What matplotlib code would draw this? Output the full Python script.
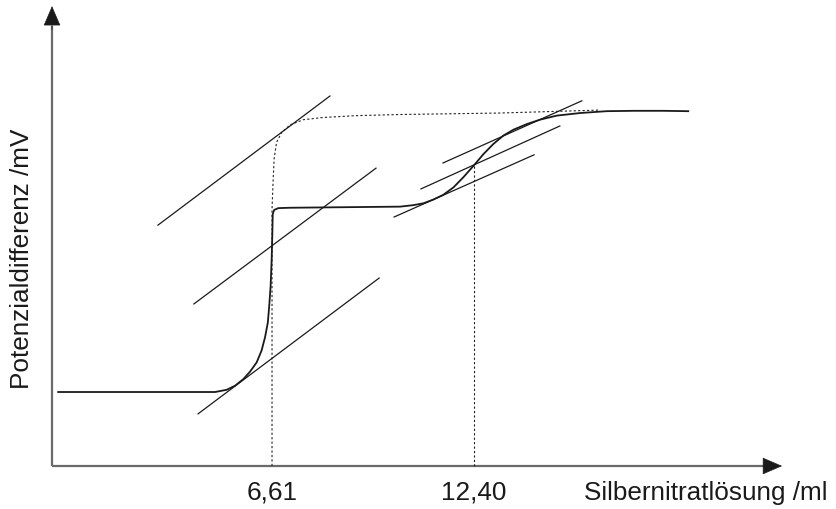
import matplotlib as mpl
import matplotlib.pyplot as plt

mpl.rcParams["font.family"] = ["Liberation Sans", "DejaVu Sans"]

# Data (x in ml, y in arbitrary mV units)
curve_x = [0.48, 4.98, 5.31, 5.55, 5.79, 5.98, 6.17, 6.31, 6.41, 6.49, 6.53,
           6.57, 6.60, 6.62, 6.63, 6.67, 6.79, 7.13, 10.28, 10.66, 10.95, 11.23,
           11.52, 11.81, 12.09, 12.41, 12.67, 12.95, 13.24, 13.53, 13.91, 14.29,
           14.77, 15.44, 16.20, 16.97, 17.83, 18.54]
curve_y = [20.0, 20.0, 20.6, 21.7, 23.5, 25.5, 28.0, 31.2, 34.8, 38.8, 43.3,
           48.7, 56.0, 63.2, 68.1, 69.2, 69.7, 69.8, 70.1, 70.5, 71.0, 72.0,
           73.3, 75.3, 78.0, 81.4, 84.3, 87.0, 89.3, 90.9, 92.4, 93.6,
           94.7, 95.4, 95.9, 96.0, 96.0, 95.9]

ideal_x = [6.61, 6.61, 6.64, 6.67, 6.74, 6.89, 7.13, 7.51, 8.08, 9.04, 10.28, 13.14, 16.01]
ideal_y = [0.0, 69.5, 76.8, 83.0, 87.5, 90.2, 92.2, 93.6, 94.2, 94.7, 95.0, 95.4, 96.2]

# tangent segments: (x0, y0, x1, y1)
tangents = [
    (3.34, 65.1, 8.27, 100.0),
    (4.37, 43.8, 9.59, 80.5),
    (4.49, 14.1, 9.68, 50.8),
    (11.51, 81.9, 15.49, 98.7),
    (10.88, 74.9, 14.86, 91.9),
    (10.11, 67.3, 14.12, 84.1),
]

eq_points = [6.61, 12.40]
eq_labels = ["6,61", "12,40"]
eq_heights = [69.5, 81.35]

fig = plt.figure(figsize=(8.36, 5.10), dpi=100)
ax = fig.add_axes([0, 0, 1, 1])
ax.set_xlim(-1.187, 22.775)
ax.set_ylim(-11.62, 126.22)
ax.axis("off")

x0, y0 = 0.304, 0.0
# axes with arrows
ax.plot([x0, x0], [y0, 119], color="#6a6a6a", lw=1.6, solid_capstyle="butt")
ax.plot([x0, 20.8], [y0, y0], color="#6a6a6a", lw=1.6, solid_capstyle="butt")
head = dict(arrowstyle="-|>,head_length=0.65,head_width=0.28", mutation_scale=20,
            color="#1a1a1a", lw=0.5, shrinkA=0, shrinkB=0)
ax.annotate("", xy=(x0, 124.3), xytext=(x0, 118), arrowprops=head)
ax.annotate("", xy=(21.23, y0), xytext=(20.7, y0), arrowprops=head)

# equivalence dotted lines
for xe, he, lab in zip(eq_points, eq_heights, eq_labels):
    if xe > 10:
        ax.plot([xe, xe], [0, he], color="#222222", lw=0.8, ls=(0, (2, 2)))
    ax.text(xe, -8.8, lab, ha="center", va="baseline", fontsize=18.8, color="#1a1a1a")

ax.plot(ideal_x, ideal_y, color="#222222", lw=0.8, ls=(0, (2, 2)))

for (a, b, c, d) in tangents:
    ax.plot([a, c], [b, d], color="#1a1a1a", lw=0.9)

ax.plot(curve_x, curve_y, color="#1a1a1a", lw=1.3)

ax.text(19.05, -8.8, "Silbernitratlösung /ml", ha="center", va="baseline",
        fontsize=18.8, color="#1a1a1a")
ax.text(-0.556, 56.2, "Potenzialdifferenz /mV", rotation=90, ha="center", va="center",
        fontsize=18.8, color="#1a1a1a")

fig.savefig("out.png", dpi=100)
